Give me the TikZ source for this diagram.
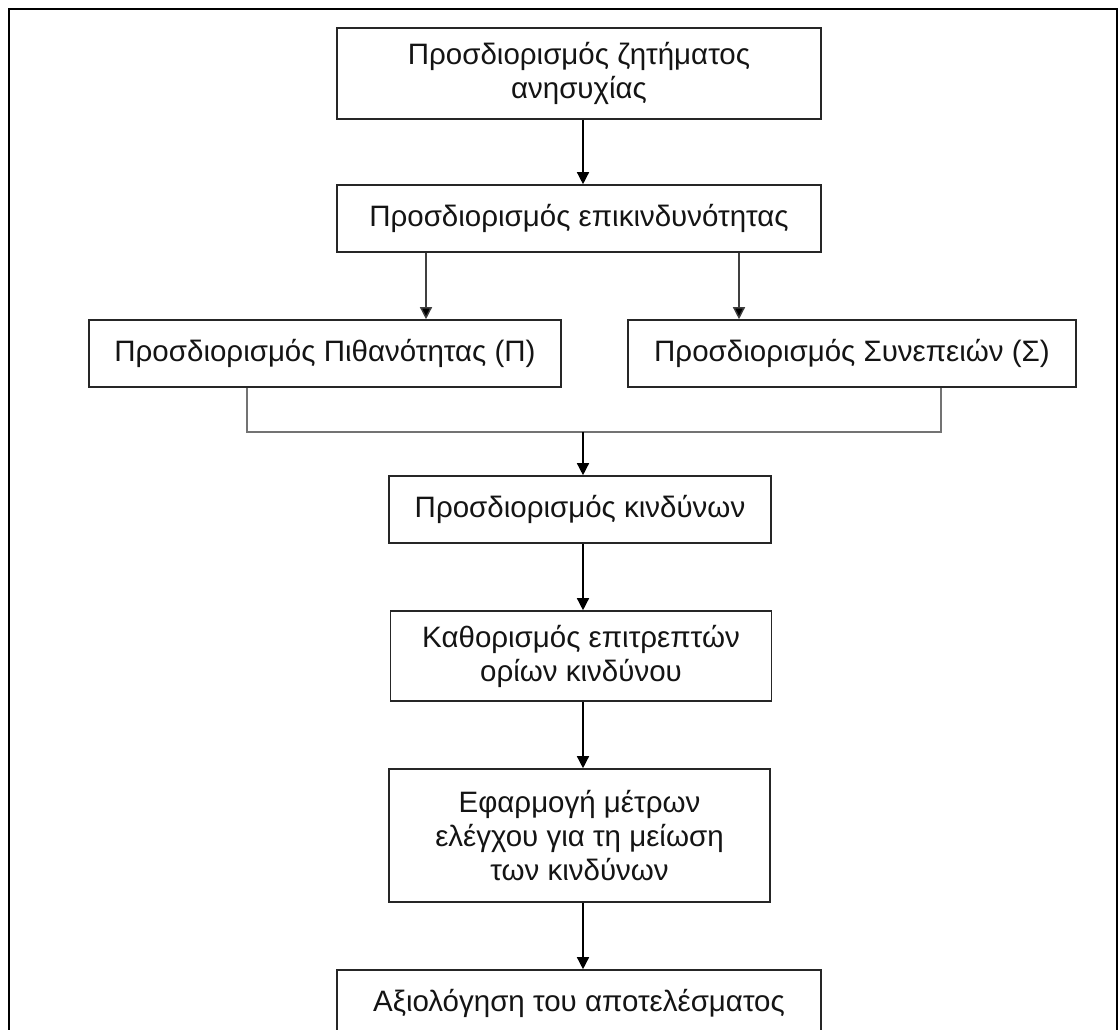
\documentclass[tikz,border=0pt]{standalone}
\usepackage{fontspec}
\setmainfont{Liberation Sans}
\usetikzlibrary{arrows.meta,calc}
\begin{document}
\begin{tikzpicture}[x=1pt,y=-1pt,
  box/.style={draw=black!85, line width=1.6pt, fill=white, inner sep=0pt,
    align=center, font=\fontsize{29.5}{34}\selectfont, text=black!92},
  flow/.style={draw=black, line width=1.4pt, -{Triangle[length=12pt,width=12pt]}},
  branch/.style={draw=black!75, line width=1.4pt, -{Triangle[length=12pt,width=12pt,fill=black]}},
  merge/.style={draw=black!55, line width=1.4pt}]

% page and outer frame
\clip (0,0) rectangle (1119,1030);
\fill[white] (0,0) rectangle (1119,1030);
\draw[line width=2.4pt] (9,9) rectangle (1117,1080);

% helper columns for connectors
\coordinate (spine) at (583,0);
\coordinate (pl) at (426,0);
\coordinate (sr) at (739,0);
\coordinate (ml) at (247,0);
\coordinate (mr) at (941,0);

% steps
\node[box, minimum width=484pt, minimum height=91pt] (b1) at (579,73.5)
  {Προσδιορισμός ζητήματος\\ανησυχίας};
\node[box, minimum width=484pt, minimum height=67pt] (b2) at (579,218.5)
  {Προσδιορισμός επικινδυνότητας};
\node[box, minimum width=472pt, minimum height=67pt] (P) at (325,353.5)
  {Προσδιορισμός Πιθανότητας (Π)};
\node[box, minimum width=448pt, minimum height=67pt] (S) at (852,353.5)
  {Προσδιορισμός Συνεπειών (Σ)};
\node[box, minimum width=382pt, minimum height=67pt] (K) at (580,509.5)
  {Προσδιορισμός κινδύνων};
\node[box, minimum width=381pt, minimum height=90pt] (L) at (581,656)
  {Καθορισμός επιτρεπτών\\ορίων κινδύνου};
\node[box, minimum width=381pt, minimum height=133pt] (M) at (579.5,835.5)
  {Εφαρμογή μέτρων\\ελέγχου για τη μείωση\\των κινδύνων};
\node[box, minimum width=484pt, minimum height=66pt] (A) at (579,1003)
  {Αξιολόγηση του αποτελέσματος};

% connectors
\draw[flow] (b1.south -| spine) -- (b2.north -| spine);
\draw[branch] (b2.south -| pl) -- (P.north -| pl);
\draw[branch] (b2.south -| sr) -- (S.north -| sr);
\coordinate (join) at (583,432);
\draw[merge] (P.south -| ml) |- (join) -| (S.south -| mr);
\draw[flow] (join) -- (K.north -| spine);
\draw[flow] (K.south -| spine) -- (L.north -| spine);
\draw[flow] (L.south -| spine) -- (M.north -| spine);
\draw[flow] (M.south -| spine) -- (A.north -| spine);
\end{tikzpicture}
\end{document}
